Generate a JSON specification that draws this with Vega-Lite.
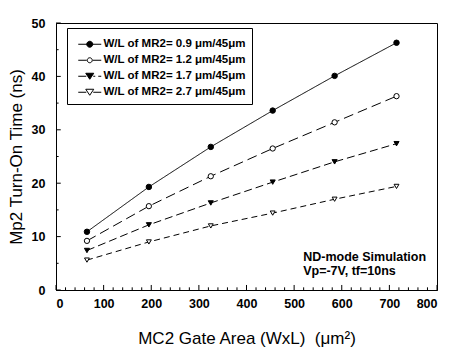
{
  "$schema": "https://vega.github.io/schema/vega-lite/v6.json",
  "autosize": "none",
  "width": 381,
  "height": 267,
  "padding": {"left": 56, "top": 23, "right": 21, "bottom": 63},
  "background": "white",
  "config": {
    "view": {"stroke": "black", "strokeWidth": 1},
    "axis": {"domainColor": "black", "tickColor": "black", "labelColor": "black", "titleColor": "black", "grid": false},
    "font": "Liberation Sans"
  },
  "datasets": {
    "main": [
      {"area": 65, "time": 10.9, "series": "W/L of MR2= 0.9 μm/45μm"},
      {"area": 195, "time": 19.3, "series": "W/L of MR2= 0.9 μm/45μm"},
      {"area": 325, "time": 26.8, "series": "W/L of MR2= 0.9 μm/45μm"},
      {"area": 455, "time": 33.6, "series": "W/L of MR2= 0.9 μm/45μm"},
      {"area": 585, "time": 40.1, "series": "W/L of MR2= 0.9 μm/45μm"},
      {"area": 715, "time": 46.3, "series": "W/L of MR2= 0.9 μm/45μm"},
      {"area": 65, "time": 9.2, "series": "W/L of MR2= 1.2 μm/45μm"},
      {"area": 195, "time": 15.7, "series": "W/L of MR2= 1.2 μm/45μm"},
      {"area": 325, "time": 21.3, "series": "W/L of MR2= 1.2 μm/45μm"},
      {"area": 455, "time": 26.5, "series": "W/L of MR2= 1.2 μm/45μm"},
      {"area": 585, "time": 31.4, "series": "W/L of MR2= 1.2 μm/45μm"},
      {"area": 715, "time": 36.3, "series": "W/L of MR2= 1.2 μm/45μm"},
      {"area": 65, "time": 7.4, "series": "W/L of MR2= 1.7 μm/45μm"},
      {"area": 195, "time": 12.2, "series": "W/L of MR2= 1.7 μm/45μm"},
      {"area": 325, "time": 16.3, "series": "W/L of MR2= 1.7 μm/45μm"},
      {"area": 455, "time": 20.2, "series": "W/L of MR2= 1.7 μm/45μm"},
      {"area": 585, "time": 24.0, "series": "W/L of MR2= 1.7 μm/45μm"},
      {"area": 715, "time": 27.4, "series": "W/L of MR2= 1.7 μm/45μm"},
      {"area": 65, "time": 5.6, "series": "W/L of MR2= 2.7 μm/45μm"},
      {"area": 195, "time": 9.0, "series": "W/L of MR2= 2.7 μm/45μm"},
      {"area": 325, "time": 12.0, "series": "W/L of MR2= 2.7 μm/45μm"},
      {"area": 455, "time": 14.4, "series": "W/L of MR2= 2.7 μm/45μm"},
      {"area": 585, "time": 17.0, "series": "W/L of MR2= 2.7 μm/45μm"},
      {"area": 715, "time": 19.4, "series": "W/L of MR2= 2.7 μm/45μm"}
    ],
    "xticks": [
      {"v": 0, "kind": "major"}, {"v": 20, "kind": "minor"}, {"v": 40, "kind": "minor"}, {"v": 60, "kind": "minor"}, {"v": 80, "kind": "minor"},
      {"v": 100, "kind": "major"}, {"v": 120, "kind": "minor"}, {"v": 140, "kind": "minor"}, {"v": 160, "kind": "minor"}, {"v": 180, "kind": "minor"},
      {"v": 200, "kind": "major"}, {"v": 220, "kind": "minor"}, {"v": 240, "kind": "minor"}, {"v": 260, "kind": "minor"}, {"v": 280, "kind": "minor"},
      {"v": 300, "kind": "major"}, {"v": 320, "kind": "minor"}, {"v": 340, "kind": "minor"}, {"v": 360, "kind": "minor"}, {"v": 380, "kind": "minor"},
      {"v": 400, "kind": "major"}, {"v": 420, "kind": "minor"}, {"v": 440, "kind": "minor"}, {"v": 460, "kind": "minor"}, {"v": 480, "kind": "minor"},
      {"v": 500, "kind": "major"}, {"v": 520, "kind": "minor"}, {"v": 540, "kind": "minor"}, {"v": 560, "kind": "minor"}, {"v": 580, "kind": "minor"},
      {"v": 600, "kind": "major"}, {"v": 620, "kind": "minor"}, {"v": 640, "kind": "minor"}, {"v": 660, "kind": "minor"}, {"v": 680, "kind": "minor"},
      {"v": 700, "kind": "major"}, {"v": 720, "kind": "minor"}, {"v": 740, "kind": "minor"}, {"v": 760, "kind": "minor"}, {"v": 780, "kind": "minor"},
      {"v": 800, "kind": "major"}
    ],
    "yticks": [
      {"v": 0, "kind": "major"}, {"v": 5, "kind": "minor"}, {"v": 10, "kind": "major"}, {"v": 15, "kind": "minor"},
      {"v": 20, "kind": "major"}, {"v": 25, "kind": "minor"}, {"v": 30, "kind": "major"}, {"v": 35, "kind": "minor"},
      {"v": 40, "kind": "major"}, {"v": 45, "kind": "minor"}, {"v": 50, "kind": "major"}
    ]
  },
  "data": {"name": "main"},
  "layer": [
    {
      "mark": {"type": "line", "color": "black", "strokeWidth": 1},
      "encoding": {
        "x": {
          "field": "area", "type": "quantitative",
          "scale": {"domain": [0, 800], "nice": false, "zero": false},
          "axis": {
            "values": [0, 100, 200, 300, 400, 500, 600, 700, 800],
            "ticks": false, "labelPadding": 7,
            "labelFontSize": 12.5, "labelFontWeight": "bold",
            "title": "MC2 Gate Area (WxL)\u00a0\u00a0(μm²)",
            "titleFontSize": 17, "titleFontWeight": "normal", "titlePadding": 21
          }
        },
        "y": {
          "field": "time", "type": "quantitative",
          "scale": {"domain": [0, 50], "nice": false, "zero": false},
          "axis": {
            "values": [0, 10, 20, 30, 40, 50],
            "ticks": false, "labelPadding": 11,
            "labelFontSize": 12.5, "labelFontWeight": "bold",
            "title": "Mp2 Turn-On Time (ns)",
            "titleFontSize": 17, "titleFontWeight": "normal", "titlePadding": 6
          }
        },
        "detail": {"field": "series", "type": "nominal"},
        "strokeDash": {
          "field": "series", "type": "nominal",
          "scale": {"range": [[1, 0], [10, 5], [8, 4], [6, 4]]},
          "legend": null
        }
      }
    },
    {
      "data": {"name": "xticks"},
      "transform": [{"filter": "datum.kind == 'major'"}],
      "mark": {"type": "rule", "color": "black", "strokeWidth": 1},
      "encoding": {
        "x": {"field": "v", "type": "quantitative"},
        "y": {"datum": 0},
        "y2": {"datum": 0.94}
      }
    },
    {
      "data": {"name": "xticks"},
      "transform": [{"filter": "datum.kind == 'minor'"}],
      "mark": {"type": "rule", "color": "black", "strokeWidth": 1},
      "encoding": {
        "x": {"field": "v", "type": "quantitative"},
        "y": {"datum": 0},
        "y2": {"datum": 0.5}
      }
    },
    {
      "data": {"name": "yticks"},
      "transform": [{"filter": "datum.kind == 'major'"}],
      "mark": {"type": "rule", "color": "black", "strokeWidth": 1},
      "encoding": {
        "y": {"field": "v", "type": "quantitative"},
        "x": {"datum": 0},
        "x2": {"datum": 10}
      }
    },
    {
      "data": {"name": "yticks"},
      "transform": [{"filter": "datum.kind == 'minor'"}],
      "mark": {"type": "rule", "color": "black", "strokeWidth": 1},
      "encoding": {
        "y": {"field": "v", "type": "quantitative"},
        "x": {"datum": 0},
        "x2": {"datum": 5.5}
      }
    },
    {
      "mark": {"type": "point", "stroke": "black", "strokeWidth": 1, "opacity": 1},
      "encoding": {
        "x": {"field": "area", "type": "quantitative"},
        "y": {"field": "time", "type": "quantitative"},
        "shape": {
          "field": "series", "type": "nominal",
          "scale": {"range": ["circle", "circle", "triangle-down", "triangle-down"]},
          "legend": null
        },
        "fill": {
          "field": "series", "type": "nominal",
          "scale": {"range": ["black", "white", "black", "white"]},
          "legend": null
        },
        "size": {
          "field": "series", "type": "ordinal",
          "scale": {"range": [30, 24, 45, 45]},
          "legend": null
        }
      }
    },
    {
      "transform": [{"filter": "false"}],
      "mark": {"type": "point", "strokeWidth": 1, "opacity": 1},
      "encoding": {
        "shape": {
          "field": "series", "type": "nominal",
          "scale": {
            "domain": ["W/L of MR2= 0.9 μm/45μm", "W/L of MR2= 1.2 μm/45μm", "W/L of MR2= 1.7 μm/45μm", "W/L of MR2= 2.7 μm/45μm"],
            "range": [
              "M0,0H23M14.5,0A3,3 0 1,1 8.5,0A3,3 0 1,1 14.5,0Z",
              "M0,0H8.5M14.5,0H23M14,0A2.5,2.5 0 1,1 9,0A2.5,2.5 0 1,1 14,0Z",
              "M0,0H8M15,0H17M20,0H23M7.5,-3L15.5,-3L11.5,3Z",
              "M0,0H8M15,0H23M7.5,-3L15.5,-3L11.5,3Z"
            ]
          },
          "legend": {
            "orient": "none", "legendX": 11, "legendY": 5,
            "title": " ", "titleFontSize": 5, "titlePadding": 0,
            "strokeColor": "black", "padding": 5.5,
            "symbolSize": 4, "symbolStrokeWidth": 1,
            "labelOffset": 19.5, "labelFontSize": 11.5, "labelFontWeight": "bold",
            "labelColor": "black", "rowPadding": 3
          }
        },
        "fill": {
          "field": "series", "type": "nominal",
          "scale": {
            "domain": ["W/L of MR2= 0.9 μm/45μm", "W/L of MR2= 1.2 μm/45μm", "W/L of MR2= 1.7 μm/45μm", "W/L of MR2= 2.7 μm/45μm"],
            "range": ["black", "white", "black", "white"]
          },
          "legend": {
            "orient": "none", "legendX": 11, "legendY": 5,
            "title": " ", "titleFontSize": 5, "titlePadding": 0,
            "strokeColor": "black", "padding": 5.5,
            "symbolSize": 4, "symbolStrokeWidth": 1,
            "labelOffset": 19.5, "labelFontSize": 11.5, "labelFontWeight": "bold",
            "labelColor": "black", "rowPadding": 3
          }
        },
        "stroke": {
          "field": "series", "type": "nominal",
          "scale": {
            "domain": ["W/L of MR2= 0.9 μm/45μm", "W/L of MR2= 1.2 μm/45μm", "W/L of MR2= 1.7 μm/45μm", "W/L of MR2= 2.7 μm/45μm"],
            "range": ["black", "black", "black", "black"]
          },
          "legend": {
            "orient": "none", "legendX": 11, "legendY": 5,
            "title": " ", "titleFontSize": 5, "titlePadding": 0,
            "strokeColor": "black", "padding": 5.5,
            "symbolSize": 4, "symbolStrokeWidth": 1,
            "labelOffset": 19.5, "labelFontSize": 11.5, "labelFontWeight": "bold",
            "labelColor": "black", "rowPadding": 3
          }
        }
      }
    },
    {
      "data": {"values": [{"note": "ND-mode Simulation"}]},
      "mark": {"type": "text", "align": "left", "baseline": "alphabetic", "fontSize": 12.5, "fontWeight": "bold", "color": "black", "lineHeight": 14},
      "encoding": {
        "x": {"datum": 519},
        "y": {"datum": 5.4},
        "text": {"value": ["ND-mode Simulation", "Vp=-7V, tf=10ns"]}
      }
    }
  ],
  "resolve": {
    "scale": {"shape": "independent", "fill": "independent", "size": "independent", "strokeDash": "independent", "stroke": "independent"},
    "legend": {"shape": "independent", "fill": "independent", "stroke": "independent"}
  }
}
